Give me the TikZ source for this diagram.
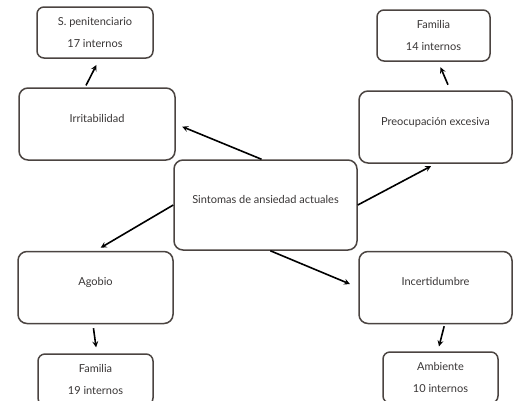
\documentclass[tikz,border=0pt]{standalone}
\usepackage{fontspec}
\setmainfont{Lato}
\usepackage{tikz}
\usepackage{xcolor}
\definecolor{boxline}{HTML}{4B4441}
\definecolor{boxtext}{HTML}{383535}
\tikzset{
  bigbox/.style={draw=boxline, line width=1.5pt, rounded corners=9pt,
    minimum width=#1, minimum height=72pt, text=boxtext,
    font=\fontsize{11}{13}\selectfont, text height=8pt, text depth=12pt},
  smallbox/.style={draw=boxline, line width=1.5pt, rounded corners=7pt,
    minimum width=#1, minimum height=51pt, text=boxtext, align=center,
    font=\fontsize{11}{13}\selectfont},
  flecha/.style={-stealth, line width=1.6pt, black}
}
\begin{document}
\begin{tikzpicture}[x=1pt,y=-1pt]
            \useasboundingbox (0,0) rectangle (513,400);
            % cuadros
            \node[bigbox=183pt, minimum height=90pt, text depth=11pt] (sintomas) at (265.5,205) {Sintomas de ansiedad actuales};
            \node[bigbox=156pt] (irrit) at (97,124) {Irritabilidad};
            \node[bigbox=153pt] (preoc) at (435.5,127) {Preocupación excesiva};
            \node[bigbox=155pt] (agobio) at (95.5,287.5) {Agobio};
            \node[bigbox=153pt] (incert) at (435.5,287.5) {Incertidumbre};

            \node[smallbox=116pt] (penit) at (95,32.5) {S. penitenciario\\[9pt]17 internos};
            \node[smallbox=113pt] (fam14) at (433.5,35.5) {Familia\\[9pt]14 internos};
            \node[smallbox=115pt] (fam19) at (95.5,379.5) {Familia\\[9pt]19 internos};
            \node[smallbox=115pt] (ambiente) at (440.5,377.5) {Ambiente\\[9pt]10 internos};

            % flechas
            \draw[flecha, shorten >=7pt] (sintomas.95) -- (irrit.east);
            \draw[flecha, shorten >=5pt] (sintomas.east) -- (preoc.south);
            \draw[flecha, shorten >=6pt] (sintomas.west) -- (agobio.north);
            \draw[flecha, shorten >=9pt] (sintomas.-84) -- (incert.west);

            \draw[flecha, shorten <=2pt, shorten >=7pt] (irrit.108) -- (penit.-80);
            \draw[flecha, shorten <=6pt, shorten >=6pt] (preoc.68) -- (fam14.-80);
            \draw[flecha, shorten <=4pt, shorten >=6pt] (agobio.-94) -- (fam19.87);
            \draw[flecha, shorten <=2pt, shorten >=5pt] (incert.-76) -- (ambiente.96);
        \end{tikzpicture}
\end{document}
